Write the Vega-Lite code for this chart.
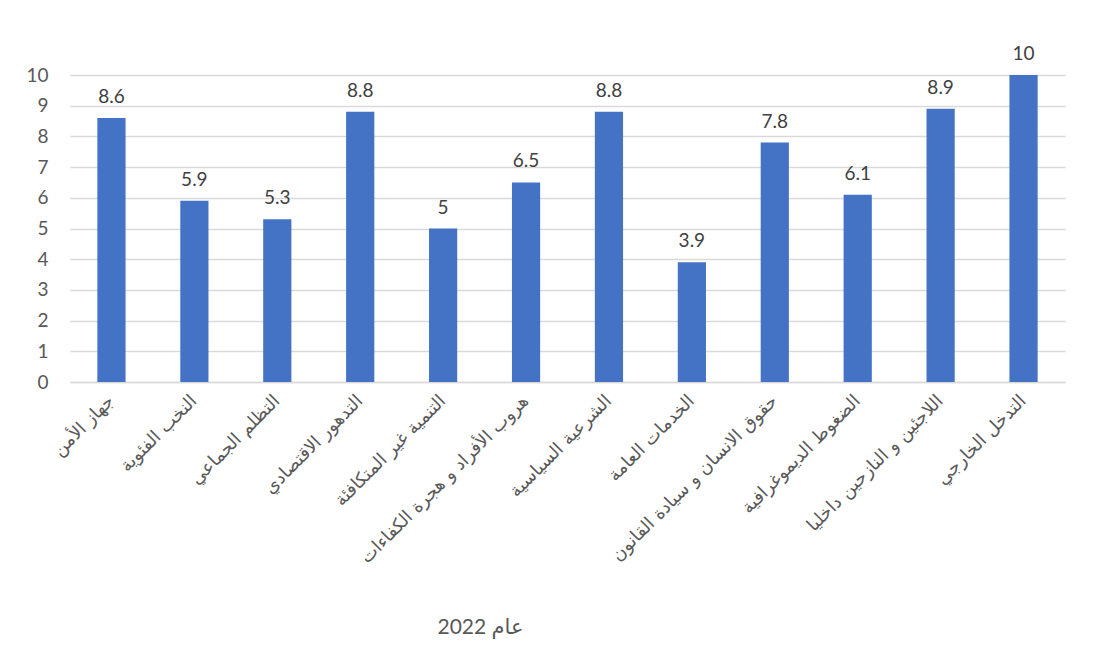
{
  "$schema": "https://vega.github.io/schema/vega-lite/v6.json",
  "width": 995,
  "height": 307,
  "autosize": {"type": "none"},
  "padding": {"left": 70, "top": 75, "right": 34, "bottom": 273},
  "background": "white",
  "config": {
    "view": {"stroke": null},
    "font": "Lato, DejaVu Sans, sans-serif"
  },
  "data": {
    "values": [
      {"label": "جهاز الأمن", "value": 8.6},
      {"label": "النخب الفئوية", "value": 5.9},
      {"label": "التظلم الجماعي", "value": 5.3},
      {"label": "التدهور  الاقتصادي", "value": 8.8},
      {"label": "التنمية غير المتكافئة", "value": 5},
      {"label": "هروب الأفراد و هجرة الكفاءات", "value": 6.5},
      {"label": "الشرعية السياسية", "value": 8.8},
      {"label": "الخدمات العامة", "value": 3.9},
      {"label": "حقوق الانسان و سيادة القانون", "value": 7.8},
      {"label": "الضغوط الديموغرافية", "value": 6.1},
      {"label": "اللاجئين و النازحين داخليا", "value": 8.9},
      {"label": "التدخل الخارجي", "value": 10}
    ]
  },
  "encoding": {
    "x": {
      "field": "label",
      "type": "nominal",
      "sort": null,
      "scale": {"paddingInner": 0.66, "paddingOuter": 0.33},
      "axis": {
        "title": "عام 2022",
        "titleX": 410,
        "titleY": 245,
        "titleBaseline": "middle",
        "titleAlign": "center",
        "titleFontSize": 21,
        "titleFontWeight": "normal",
        "titleColor": "#595959",
        "titleFont": "Lato, DejaVu Sans, sans-serif",
        "labelAngle": -45,
        "labelAlign": "right",
        "labelBaseline": "middle",
        "labelFontSize": 18,
        "labelColor": "#595959",
        "labelFont": "DejaVu Sans, sans-serif",
        "labelPadding": 16,
        "labelLimit": 400,
        "labelOverlap": false,
        "ticks": false,
        "domainColor": "#D9D9D9",
        "domainWidth": 1.5
      }
    },
    "y": {
      "field": "value",
      "type": "quantitative",
      "scale": {"domain": [0, 10], "nice": false},
      "axis": {
        "title": null,
        "values": [0,1,2,3,4,5,6,7,8,9,10],
        "labelOverlap": false,
        "ticks": false,
        "domain": false,
        "gridColor": "#D9D9D9",
        "gridWidth": 1.5,
        "labelFontSize": 19,
        "labelColor": "#595959",
        "labelPadding": 22
      }
    }
  },
  "layer": [
    {"mark": {"type": "bar", "color": "#4472C4"}},
    {
      "mark": {"type": "text", "baseline": "bottom", "dy": -11, "fontSize": 19, "color": "#404040"},
      "encoding": {"text": {"field": "value", "type": "quantitative"}}
    }
  ]
}
